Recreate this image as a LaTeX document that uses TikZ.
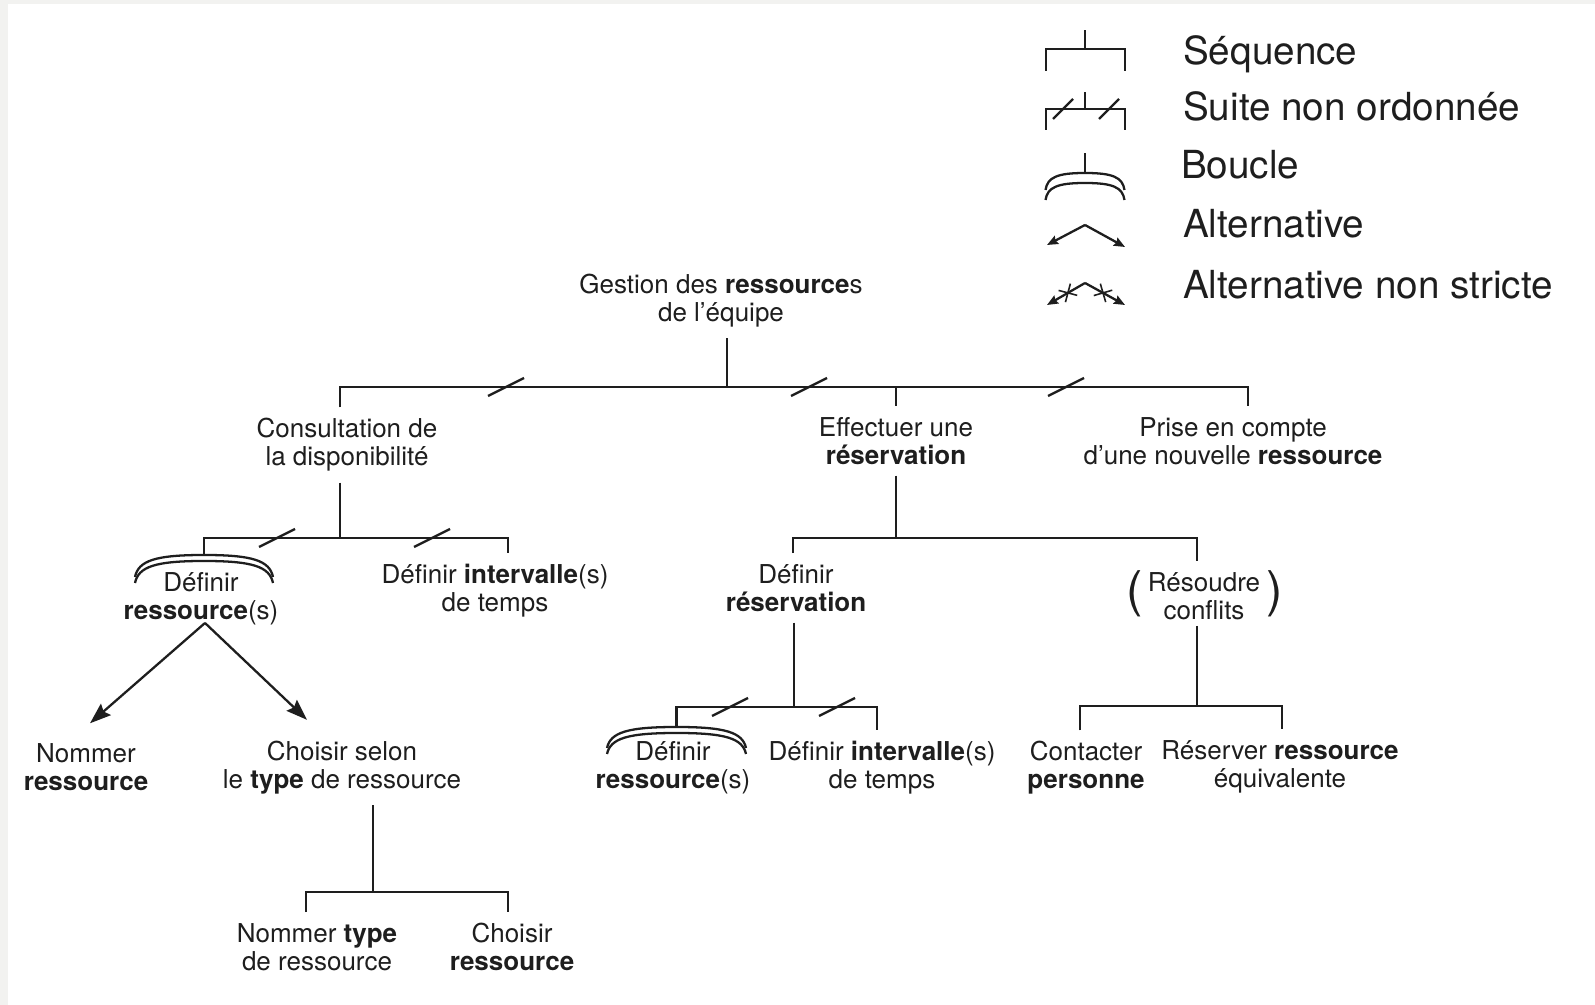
\documentclass[tikz,border=0pt]{standalone}
\usepackage{fontspec}
\setmainfont{TeX Gyre Heros}
\usetikzlibrary{arrows.meta, shapes.misc}

\definecolor{fond}{HTML}{F2F2F0}
\definecolor{ink}{HTML}{1E1E1E}
\newcommand{\taskfont}{\fontsize{14.8}{15.9}\selectfont}
\newcommand{\legfont}{\fontsize{22}{26}\selectfont}
\newcommand{\parfont}{\fontsize{28}{28}\selectfont}
% double arc over a repeated task: centre x, top y, half width, depth, gap
\newcommand{\boucle}[5]{%
  \foreach \g in {0,#5} {
    \draw ({#1-#3},{#2-#4-\g}) .. controls ({#1-0.95*#3},{#2-0.25*#4-\g}) and ({#1-0.7*#3},{#2-\g}) .. ({#1},{#2-\g})
      .. controls ({#1+0.7*#3},{#2-\g}) and ({#1+0.95*#3},{#2-0.25*#4-\g}) .. ({#1+#3},{#2-#4-\g});
  }%
}

\begin{document}
\begin{tikzpicture}[line width=1.3pt, color=ink,
    task/.style={align=center, font=\taskfont, inner xsep=0pt, inner ysep=0.2cm},
    paren/.style={font=\parfont, inner sep=0pt},
    legtext/.style={anchor=base west, font=\legfont, inner sep=0pt}]

\useasboundingbox (0,0) rectangle (31.9,20.1);
\fill[fond] (0,0) rectangle (31.9,20.1);
\fill[white] (0.16,0) rectangle (31.9,20.02);

\begin{scope}[every node/.style={task}]
    \node (root) at (14.42, 14.09) {Gestion des \textbf{ressource}s\\de l’équipe};

    \node (consult) at (6.94, 11.2) {Consultation de\\la disponibilité};
    \node (effect) at (17.92, 11.28) {Effectuer une\\\textbf{réservation}};
    \node (prise) at (24.66, 11.28) {Prise en compte\\d’une nouvelle \textbf{ressource}};

    \node (defres) at (4.02, 8.12) {Définir\\\textbf{ressource}(s)};
    \node (defint) at (9.9, 8.29) {Définir \textbf{intervalle}(s)\\de temps};
    \node (defresa) at (15.92, 8.34) {Définir\\\textbf{réservation}};
    \node (resoudre) at (24.08, 8.18) {Résoudre\\conflits};

    \node (nomres) at (1.72, 4.76) {Nommer\\\textbf{ressource}};
    \node (choisel) at (6.84, 4.75) {Choisir selon\\le \textbf{type} de ressource};
    \node (defres2) at (13.46, 4.74) {Définir\\\textbf{ressource}(s)};
    \node (defint2) at (17.64, 4.74) {Définir \textbf{intervalle}(s)\\de temps};
    \node (contact) at (21.72, 4.74) {Contacter\\\textbf{personne}};
    \node (reserv) at (25.6, 4.77) {Réserver \textbf{ressource}\\équivalente};

    \node (nomtype) at (6.34, 1.16) {Nommer \textbf{type}\\de ressource};
    \node (choires) at (10.24, 1.16) {Choisir\\\textbf{ressource}};
\end{scope}

% optional task
\node (parg) at ([xshift=-1.5pt, yshift=1pt]resoudre.west) [paren, anchor=east] {(};
\node (pard) at ([xshift=2.5pt, yshift=1pt]resoudre.east) [paren, anchor=west] {)};

% junctions of the bars
\coordinate (j0) at (14.54, 12.36);
\coordinate (t1a) at (6.8, 12.36);
\coordinate (t1b) at (17.92, 12.36);
\coordinate (t1c) at (24.96, 12.36);

\coordinate (j1) at (6.8, 9.34);
\coordinate (t2a) at (4.08, 9.34);
\coordinate (t2b) at (10.16, 9.34);
\coordinate (lp1) at (4.08, 9.0);

\coordinate (j2) at (17.92, 9.34);
\coordinate (t3a) at (15.86, 9.34);
\coordinate (t3b) at (23.94, 9.34);

\coordinate (j4) at (15.88, 5.96);
\coordinate (t5a) at (13.53, 5.96);
\coordinate (t5b) at (17.54, 5.96);
\coordinate (lp2) at (13.53, 5.56);

\coordinate (j5) at (23.94, 5.98);
\coordinate (t6a) at (21.6, 5.98);
\coordinate (t6b) at (25.64, 5.98);

\coordinate (j3) at (7.46, 2.26);
\coordinate (t4a) at (6.12, 2.26);
\coordinate (t4b) at (10.16, 2.26);

\coordinate (alt1) at (4.1, 7.64);

\draw (root.south -| j0) -- (j0);
\draw (consult.north -| t1a) -- (t1a) -- (t1c) -- (prise.north -| t1c);
\draw (t1b) -- (effect);

\draw (consult.south -| j1) -- (j1);
\draw (lp1) -- (t2a) -- (t2b) -- (defint.north -| t2b);
\boucle{4.08}{9.0}{1.38}{0.44}{0.12}

\draw (effect) -- (j2);
\draw (defresa.north -| t3a) -- (t3a) -- (t3b) -- (resoudre.north -| t3b);

\draw (defresa.south -| j4) -- (j4);
\draw (lp2) -- (t5a) -- (t5b) -- (defint2.north -| t5b);
\boucle{13.53}{5.56}{1.39}{0.42}{0.12}

\draw ([yshift=0.1cm]resoudre.south -| j5) -- (j5);
\draw (contact.north -| t6a) -- (t6a) -- (t6b) -- (reserv.north -| t6b);

\draw (choisel.south -| j3) -- (j3);
\draw (nomtype.north -| t4a) -- (t4a) -- (t4b) -- (choires.north -| t4b);

% suite non ordonnee
\foreach \x/\y in {10.12/12.36, 16.18/12.36, 21.32/12.36, 5.54/9.34, 8.64/9.34, 14.6/5.96, 16.74/5.96}
    \draw (\x,\y) +(-0.36,-0.18) -- +(0.36,0.18);

\begin{scope}[>={Stealth[length=0.42cm, width=0.3cm, inset=0.06cm]}]
    \draw [->] (alt1) -- ([shift={(0.08,0.18)}]nomres.north);
    \draw [->] (alt1) -- ([shift={(-0.7,0.2)}]choisel.north);
\end{scope}

% legend
\draw (20.92,18.68) -- (20.92,19.12) -- (22.5,19.12) -- (22.5,18.68);
\draw (21.7,19.12) -- (21.7,19.49);

\draw (20.92,17.5) -- (20.92,17.92) -- (22.5,17.92) -- (22.5,17.5);
\draw (21.7,17.92) -- (21.7,18.26);
\foreach \x in {21.26, 22.18}
    \draw (\x,17.92) +(-0.2,-0.2) -- +(0.2,0.2);

\draw (21.7,16.64) -- (21.7,17.04);
\boucle{21.7}{16.64}{0.79}{0.34}{0.2}

\begin{scope}[>={Stealth[length=0.22cm, width=0.18cm, inset=0.03cm]},
              every node/.style={cross out, draw, line width=0.9pt, minimum size=0.24cm, inner sep=0pt, sloped}]
    \draw [->] (21.7,15.6) -- (20.94,15.2);
    \draw [->] (21.7,15.6) -- (22.5,15.16);
    \draw [->] (21.7,14.44) -- node[pos=0.45] {} (20.94,14.0);
    \draw [->] (21.7,14.44) -- node[pos=0.45] {} (22.5,14.0);
\end{scope}

\node (lseq) at (23.64, 18.8) [legtext] {Séquence};
\node (lsuite) at (23.64, 17.68) [legtext] {Suite non ordonnée};
\node (lboucle) at (23.6, 16.52) [legtext] {Boucle};
\node (lalt) at (23.64, 15.34) [legtext] {Alternative};
\node (lnonstr) at (23.64, 14.12) [legtext] {Alternative non stricte};

\end{tikzpicture}
\end{document}
